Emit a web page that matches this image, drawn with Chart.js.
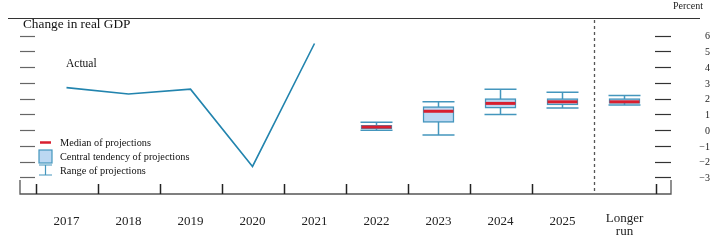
<!DOCTYPE html>
<html>
<head>
<meta charset="utf-8">
<script src="https://cdn.jsdelivr.net/npm/chart.js@4"></script>
<style>
  html, body { margin: 0; padding: 0; background: #fff; }
  #wrap { width: 720px; height: 240px; position: relative; }
</style>
</head>
<body>
<div id="wrap"><canvas id="gdp-chart"></canvas></div>
<script>
// Chart data
const years = ['2017', '2018', '2019', '2020', '2021', '2022', '2023', '2024', '2025', 'Longer run'];
const actualValues = [2.7, 2.3, 2.6, -2.3, 5.5];          // 2017-2021
const medians = [0.2, 1.2, 1.7, 1.8, 1.8];                // 2022-2025, longer run
const centralLow = [0.1, 0.5, 1.4, 1.6, 1.7];
const centralHigh = [0.3, 1.5, 2.0, 2.0, 2.0];
const rangeLow = [0.0, -0.3, 1.0, 1.4, 1.6];
const rangeHigh = [0.5, 1.8, 2.6, 2.4, 2.2];
const yTicks = [-3, -2, -1, 0, 1, 2, 3, 4, 5, 6];

const FIRST_PROJ = actualValues.length;
const SERIF = "'Liberation Serif', 'DejaVu Serif', serif";
const LINE_BLUE = '#2284ae';
const BOX_BLUE = '#4496bd';
const BOX_FILL = '#bcd8f2';
const MEDIAN_RED = '#d81f2f';

// Axes, ticks, whiskers, labels and legend
const decorations = {
    id: 'decorations',
    beforeDatasetsDraw(chart) {
        const ctx = chart.ctx;
        const x = chart.scales.x, y = chart.scales.y;
        ctx.save();
        // range whiskers (boxes are drawn on top of them)
        ctx.strokeStyle = BOX_BLUE;
        ctx.lineWidth = 1.5;
        medians.forEach((m, i) => {
            const cx = x.getPixelForValue(FIRST_PROJ + i);
            const top = y.getPixelForValue(rangeHigh[i]);
            const bot = y.getPixelForValue(rangeLow[i]);
            ctx.beginPath();
            ctx.moveTo(cx, top); ctx.lineTo(cx, bot);
            ctx.moveTo(cx - 16, top); ctx.lineTo(cx + 16, top);
            ctx.moveTo(cx - 16, bot); ctx.lineTo(cx + 16, bot);
            ctx.stroke();
        });
        ctx.restore();
    },
    afterDraw(chart) {
        const ctx = chart.ctx;
        const area = chart.chartArea;
        const x = chart.scales.x, y = chart.scales.y;
        ctx.save();

        // top rule
        ctx.strokeStyle = '#333';
        ctx.lineWidth = 1.2;
        ctx.beginPath();
        ctx.moveTo(8, area.top + 0.5); ctx.lineTo(700, area.top + 0.5);
        ctx.stroke();

        // bottom axis with end posts
        ctx.strokeStyle = '#555';
        ctx.lineWidth = 1.3;
        ctx.beginPath();
        ctx.moveTo(area.left, area.bottom - 14); ctx.lineTo(area.left, area.bottom);
        ctx.lineTo(area.right, area.bottom); ctx.lineTo(area.right, area.bottom - 14);
        ctx.stroke();

        // category boundary ticks
        ctx.strokeStyle = '#222';
        ctx.lineWidth = 1.5;
        for (let i = 0; i <= years.length; i++) {
            if (i === years.length - 1) continue;
            const px = Math.round(x.getPixelForValue(i - 0.5)) + 0.5;
            ctx.beginPath();
            ctx.moveTo(px, area.bottom - 10); ctx.lineTo(px, area.bottom);
            ctx.stroke();
        }

        // dashed separator before longer run
        const dx = Math.round(x.getPixelForValue(years.length - 1.5)) + 0.5;
        ctx.strokeStyle = '#555';
        ctx.lineWidth = 1.3;
        ctx.setLineDash([3, 3]);
        ctx.beginPath();
        ctx.moveTo(dx, area.top + 2); ctx.lineTo(dx, area.bottom);
        ctx.stroke();
        ctx.setLineDash([]);

        // y ticks on both sides
        ctx.lineWidth = 1.2;
        yTicks.forEach(t => {
            const py = Math.round(y.getPixelForValue(t)) + 0.5;
            ctx.strokeStyle = '#666';
            ctx.beginPath();
            ctx.moveTo(area.left, py); ctx.lineTo(area.left + 15, py);
            ctx.stroke();
            ctx.strokeStyle = '#333';
            ctx.beginPath();
            ctx.moveTo(area.right - 16, py); ctx.lineTo(area.right, py);
            ctx.stroke();
        });

        // right tick labels
        ctx.fillStyle = '#222';
        ctx.font = '10px ' + SERIF;
        ctx.textAlign = 'right';
        ctx.textBaseline = 'middle';
        yTicks.forEach(t => {
            const label = t < 0 ? '\u2212' + Math.abs(t) : String(t);
            ctx.fillText(label, 710, y.getPixelForValue(t) + 1);
        });
        ctx.fillText('Percent', 703, 6);

        // category labels
        ctx.textAlign = 'center';
        ctx.font = '13px ' + SERIF;
        years.forEach((label, i) => {
            const px = x.getPixelForValue(i);
            if (label === 'Longer run') {
                ctx.fillText('Longer', px, 219);
                ctx.fillText('run', px, 232);
            } else {
                ctx.fillText(label, px, 222);
            }
        });

        // title and series label
        ctx.textAlign = 'left';
        ctx.fillStyle = '#111';
        ctx.font = '13.3px ' + SERIF;
        ctx.fillText('Change in real GDP', 23, 25);
        ctx.font = '11.5px ' + SERIF;
        ctx.fillText('Actual', 66, 64);

        // legend
        ctx.font = '10.3px ' + SERIF;
        ctx.fillText('Median of projections', 60, 143);
        ctx.fillText('Central tendency of projections', 60, 157);
        ctx.fillText('Range of projections', 60, 171);

        ctx.strokeStyle = MEDIAN_RED;
        ctx.lineWidth = 2.5;
        ctx.beginPath();
        ctx.moveTo(40, 142.5); ctx.lineTo(51, 142.5);
        ctx.stroke();

        ctx.fillStyle = BOX_FILL;
        ctx.fillRect(39, 150, 13, 13);
        ctx.strokeStyle = BOX_BLUE;
        ctx.lineWidth = 1.2;
        ctx.strokeRect(39, 150, 13, 13);

        ctx.beginPath();
        ctx.moveTo(39, 165); ctx.lineTo(52, 165);
        ctx.moveTo(45.5, 165); ctx.lineTo(45.5, 175);
        ctx.moveTo(39, 175); ctx.lineTo(52, 175);
        ctx.stroke();

        ctx.restore();
    }
};

const ctx = document.getElementById('gdp-chart');
window.gdpChart = new Chart(ctx, {
    type: 'scatter',
    data: {
        datasets: [
            {
                type: 'scatter',
                label: 'Median of projections',
                data: medians.map((m, i) => ({ x: FIRST_PROJ + i, y: m })),
                pointStyle: 'line',
                pointRadius: 15,
                pointHoverRadius: 15,
                borderColor: MEDIAN_RED,
                borderWidth: 3,
                order: 1
            },
            {
                type: 'bar',
                label: 'Central tendency of projections',
                data: centralLow.map((lo, i) => ({ x: FIRST_PROJ + i, y: [lo, centralHigh[i]] })),
                backgroundColor: BOX_FILL,
                borderColor: BOX_BLUE,
                borderWidth: 1.5,
                borderSkipped: false,
                barThickness: 31,
                grouped: false,
                order: 2
            },
            {
                type: 'line',
                label: 'Actual',
                data: actualValues.map((v, i) => ({ x: i, y: v })),
                borderColor: LINE_BLUE,
                borderWidth: 1.6,
                pointRadius: 0,
                tension: 0,
                fill: false,
                order: 3
            }
        ]
    },
    options: {
        responsive: true,
        maintainAspectRatio: false,
        animation: false,
        layout: { padding: { left: 20, right: 49, top: 12, bottom: 46 } },
        scales: {
            x: { type: 'linear', min: -0.75, max: 9.75, offset: false, display: false },
            y: { type: 'linear', min: -4.049, max: 7.117, display: false }
        },
        plugins: {
            legend: { display: false },
            tooltip: { enabled: false }
        }
    },
    plugins: [decorations]
});
</script>
</body>
</html>
